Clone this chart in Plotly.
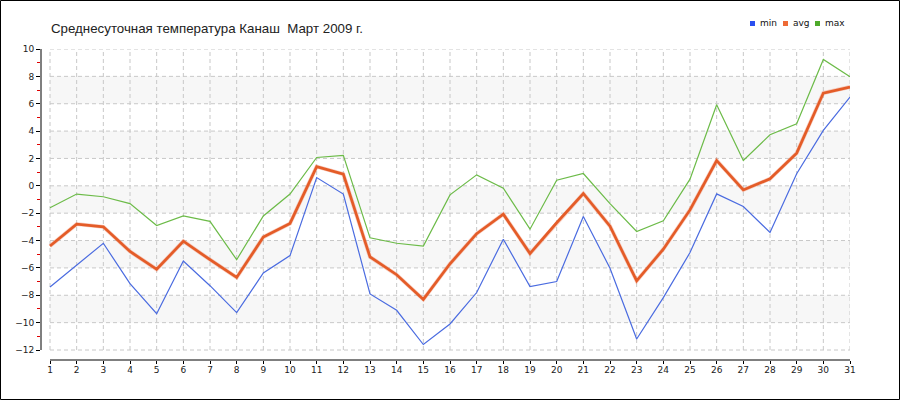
import plotly.graph_objects as go

days = list(range(1, 32))
t_min = [-7.4, -5.8, -4.2, -7.15, -9.35, -5.5, -7.3, -9.27, -6.37, -5.1, 0.6, -0.6,
         -7.9, -9.1, -11.6, -10.1, -7.8, -3.9, -7.37, -7.0, -2.24, -6.02, -11.2, -8.17,
         -4.88, -0.59, -1.51, -3.41, 0.88, 4.05, 6.49]
t_avg = [-4.4, -2.8, -3.0, -4.8, -6.1, -4.05, -5.4, -6.7, -3.75, -2.75, 1.4, 0.85,
         -5.2, -6.5, -8.3, -5.7, -3.5, -2.07, -4.95, -2.7, -0.56, -2.95, -6.95, -4.63,
         -1.76, 1.85, -0.3, 0.51, 2.39, 6.78, 7.22]
t_max = [-1.6, -0.6, -0.8, -1.3, -2.9, -2.2, -2.6, -5.4, -2.2, -0.6, 2.07, 2.22,
         -3.8, -4.2, -4.4, -0.66, 0.8, -0.17, -3.17, 0.41, 0.9, -1.3, -3.34, -2.56,
         0.49, 5.93, 1.85, 3.73, 4.54, 9.24, 7.97]
y_ticks = list(range(-12, 11, 2))
bands = [(6, 8), (2, 4), (-2, 0), (-6, -4), (-10, -8)]
title = "Среднесуточная температура Канаш  Март 2009 г."
legend_names = ["min", "avg", "max"]

W, H = 900, 400
L, R, T, B = 41, 50, 49, 40
PW, PH = W - L - R, H - T - B


def px(xp):
    return (xp - L) / PW


def py(yp):
    return (H - B - yp) / PH


c_min, c_avg, c_max = "#4a6be0", "#e45c28", "#6cbb48"
leg_cols = ["#2a4ff0", "#ee6a36", "#4eaa2a"]

fig = go.Figure()
fig.add_trace(go.Scatter(x=days, y=t_max, mode="lines", line=dict(color=c_max, width=1.2), showlegend=False))
fig.add_trace(go.Scatter(x=days, y=t_min, mode="lines", line=dict(color=c_min, width=1.2), showlegend=False))
fig.add_trace(go.Scatter(x=days, y=t_avg, mode="lines", line=dict(color="rgba(240,140,110,0.4)", width=4), showlegend=False))
fig.add_trace(go.Scatter(x=days, y=t_avg, mode="lines", line=dict(color=c_avg, width=2.7), showlegend=False))

shapes = []
for a, b in bands:
    shapes.append(dict(type="rect", xref="x", yref="y", x0=days[0], x1=days[-1], y0=a, y1=b,
                       fillcolor="#f7f7f7", line=dict(width=0), layer="below"))
for d in days:
    shapes.append(dict(type="line", xref="x", yref="y", x0=d, x1=d, y0=y_ticks[0], y1=y_ticks[-1],
                       line=dict(color="#c8c8c8", width=1, dash="4px,3px"), layer="below"))
for v in y_ticks:
    shapes.append(dict(type="line", xref="x", yref="y", x0=days[0], x1=days[-1], y0=v, y1=v,
                       line=dict(color="#c8c8c8", width=1, dash="4px,3px"), layer="below"))
# axis lines
shapes.append(dict(type="line", xref="paper", yref="y", x0=0, x1=0, y0=y_ticks[0], y1=y_ticks[-1],
                   line=dict(color="black", width=1)))
shapes.append(dict(type="line", xref="x", yref="paper", x0=days[0], x1=days[-1], y0=0, y1=0,
                   line=dict(color="black", width=1)))
# outer frame
shapes.append(dict(type="rect", xref="paper", yref="paper", x0=px(0.5), x1=px(899.5), y0=py(399.5), y1=py(0.5),
                   line=dict(color="black", width=1), fillcolor="rgba(0,0,0,0)"))

annotations = [dict(text=title, xref="paper", yref="paper", x=px(49), y=py(28), xanchor="left", yanchor="middle",
                    showarrow=False, font=dict(family="Liberation Sans, Arial", size=13.3, color="#222"))]
leg_x = [750, 783, 815]
for name, col, lx in zip(legend_names, leg_cols, leg_x):
    shapes.append(dict(type="rect", xref="paper", yref="paper", x0=px(lx), x1=px(lx + 5), y0=py(26), y1=py(21),
                       fillcolor=col, line=dict(width=0)))
    annotations.append(dict(text=name, xref="paper", yref="paper", x=px(lx + 8), y=py(23), xanchor="left",
                            yanchor="middle", showarrow=False,
                            font=dict(family="DejaVu Sans, Verdana", size=9, color="#111")))

tick_font = dict(family="DejaVu Sans, Verdana", size=9, color="#222")
fig.update_layout(
    width=W, height=H,
    margin=dict(l=L, r=R, t=T, b=B, pad=0),
    paper_bgcolor="white", plot_bgcolor="white",
    shapes=shapes, annotations=annotations,
    showlegend=False,
    xaxis=dict(range=[1 - 9 / (PW / (30 + 9 / 26.667)), 31], tickvals=days, ticktext=[str(d) for d in days],
               showgrid=False, zeroline=False, showline=False, ticks="outside", ticklen=3, tickcolor="black",
               ticklabelstandoff=-2, tickfont=tick_font),
    yaxis=dict(range=[-12 - 10 / 13.68, 10], tickvals=y_ticks, showgrid=False, zeroline=False, showline=False,
               ticks="outside", ticklen=4, tickcolor="black", tickfont=tick_font,
               minor=dict(dtick=1, tick0=1, ticks="outside", ticklen=3, tickcolor="#e00000", showgrid=False)),
)

fig.write_html("out.html", config={"displayModeBar": False}, post_script="document.body.style.margin='0';")
